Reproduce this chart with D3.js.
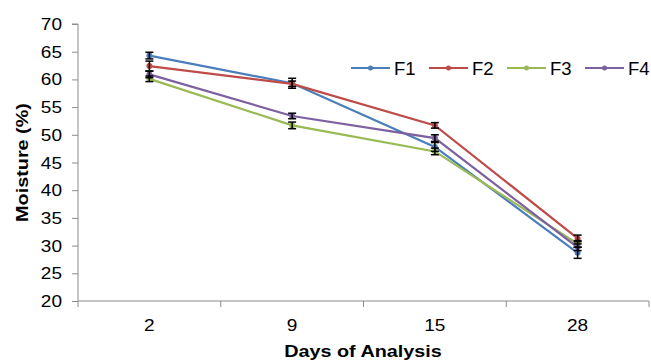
<!DOCTYPE html>
<html>
<head>
<style>
  body { margin: 0; background: #fff; }
  text { font-family: "Liberation Sans", Arial, sans-serif; fill: #000; }
</style>
</head>
<body>
<div id="chart"></div>
<script src="https://d3js.org/d3.v7.min.js"></script>
<script>
var days = ["2", "9", "15", "28"];
var seriesNames = ["F1", "F2", "F3", "F4"];
var colors = ["#4a7ebb", "#be4b48", "#98b954", "#7d60a0"];
var F1 = [64.3, 59.3, 47.8, 28.7];
var F2 = [62.4, 59.2, 51.7, 31.3];
var F3 = [60.1, 51.7, 47.0, 30.3];
var F4 = [60.9, 53.4, 49.4, 29.7];
var F1err = [0.6, 0.9, 0.8, 1.0];
var F2err = [0.9, 0.5, 0.5, 0.6];
var F3err = [0.5, 0.6, 0.6, 0.6];
var F4err = [0.6, 0.5, 0.6, 0.6];
var yTicks = [20, 25, 30, 35, 40, 45, 50, 55, 60, 65, 70];

var width = 651, height = 363;
var margin = {left: 78, right: 2, top: 24, bottom: 62};

var svg = d3.select("#chart").append("svg")
    .attr("width", width).attr("height", height);

var x = d3.scaleBand().domain(days).range([margin.left, width - margin.right]);
var y = d3.scaleLinear().domain([20, 70]).range([height - margin.bottom, margin.top]);

// text in the reference is drawn a bit wider than Liberation Sans
function label(g, tx, ty, str, size, sx, anchor, bold, rot) {
  var t = g.append("text")
      .attr("transform", "translate(" + tx + "," + ty + ")" + (rot ? " rotate(" + rot + ")" : "") + " scale(" + sx + ",1)")
      .attr("text-anchor", anchor)
      .style("font-size", size + "px")
      .text(str);
  if (bold) t.style("font-weight", "bold");
  return t;
}

// y axis
var yAxis = svg.append("g")
    .attr("transform", "translate(" + margin.left + ",0)")
    .call(d3.axisLeft(y).tickValues(yTicks).tickSize(6).tickFormat(""));
yAxis.selectAll("path, line").attr("stroke", "#8c8c8c");
yAxis.select(".domain").attr("d", "M0," + y(20) + "V" + y(70) + "M-6," + y(70) + "H0");
yTicks.forEach(function (v) {
  label(svg, 62, y(v) + 6, String(v), 17, 1.12, "end");
});

// x axis with ticks at category boundaries
var xg = svg.append("g").attr("transform", "translate(0," + y(20) + ")");
xg.append("line").attr("x1", margin.left).attr("x2", width - margin.right)
    .attr("stroke", "#8c8c8c");
var bounds = days.map(function (d) { return x(d); }).concat([width - margin.right]);
xg.selectAll("line.tk").data(bounds).enter().append("line")
    .attr("class", "tk")
    .attr("x1", function (d) { return d; }).attr("x2", function (d) { return d; })
    .attr("y1", 0).attr("y2", 6).attr("stroke", "#8c8c8c");
days.forEach(function (d) {
  label(xg, x(d) + x.bandwidth() / 2, 30, d, 17, 1.12, "middle");
});

// axis titles
label(svg, 28, margin.top + (y(20) - margin.top) / 2, "Moisture (%)", 16.5, 1.2, "middle", true, -90);
label(svg, 363, 357, "Days of Analysis", 16.5, 1.2, "middle", true);

var series = [
  {name: seriesNames[0], values: F1, err: F1err, color: colors[0]},
  {name: seriesNames[1], values: F2, err: F2err, color: colors[1]},
  {name: seriesNames[2], values: F3, err: F3err, color: colors[2]},
  {name: seriesNames[3], values: F4, err: F4err, color: colors[3]}
];

var cx = function (i) { return x(days[i]) + x.bandwidth() / 2; };
var line = d3.line().x(function (d, i) { return cx(i); }).y(function (d) { return y(d); });

series.forEach(function (s) {
  svg.append("path").attr("d", line(s.values))
      .attr("fill", "none").attr("stroke", s.color).attr("stroke-width", 2.2);
  svg.selectAll(null).data(s.values).enter().append("circle")
      .attr("cx", function (d, i) { return cx(i); })
      .attr("cy", function (d) { return y(d); })
      .attr("r", 3).attr("fill", s.color);
});

// error bars
series.forEach(function (s) {
  var g = svg.append("g").attr("stroke", "#000").attr("stroke-width", 1.5);
  s.values.forEach(function (v, i) {
    var e = s.err[i], xc = cx(i);
    g.append("line").attr("x1", xc).attr("x2", xc).attr("y1", y(v - e)).attr("y2", y(v + e));
    g.append("line").attr("x1", xc - 4).attr("x2", xc + 4).attr("y1", y(v - e)).attr("y2", y(v - e));
    g.append("line").attr("x1", xc - 4).attr("x2", xc + 4).attr("y1", y(v + e)).attr("y2", y(v + e));
  });
});

// legend
var leg = svg.append("g");
series.forEach(function (s, i) {
  var lx = 351 + i * 78, ly = 68;
  leg.append("line").attr("x1", lx).attr("x2", lx + 39).attr("y1", ly).attr("y2", ly)
      .attr("stroke", s.color).attr("stroke-width", 2.2);
  leg.append("circle").attr("cx", lx + 19.5).attr("cy", ly).attr("r", 2.5).attr("fill", s.color);
  label(leg, lx + 43, ly + 6.5, s.name, 18.5, 1.0, "start");
});
</script>
</body>
</html>
